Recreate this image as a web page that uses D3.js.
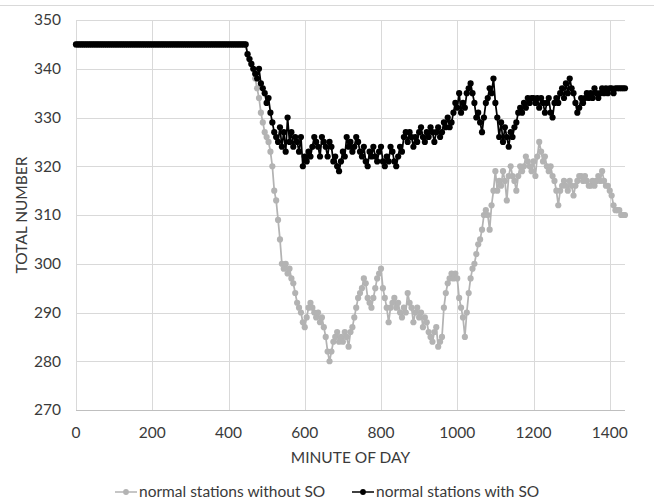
<!DOCTYPE html>
<html lang="en">
<head>
<meta charset="UTF-8">
<title>Total number of normal stations by minute of day</title>
<script src="https://d3js.org/d3.v7.min.js"></script>
<style>
  body { margin: 0; background: #fff; }
  text { font-family: Lato, "Open Sans", sans-serif; fill: #3a3a3a; font-size: 15.5px; }
</style>
</head>
<body>
<svg id="chart"></svg>
<script>
// sampled every 5 minutes, 0..1440
const minutes = d3.range(0, 1441, 5);

const withoutSO = [
  345,345,345,345,345,345,345,345,345,345,345,345,345,345,345,345,345,345,345,345,
  345,345,345,345,345,345,345,345,345,345,345,345,345,345,345,345,345,345,345,345,
  345,345,345,345,345,345,345,345,345,345,345,345,345,345,345,345,345,345,345,345,
  345,345,345,345,345,345,345,345,345,345,345,345,345,345,345,345,345,345,345,345,
  345,345,345,345,345,345,345,345,345,345,
  343,342,341,340,338,336,334,331,329,327,326,325,323,320,315,313,309,305,300,299,
  300,298,299,297,296,294,292,291,290,288,287,289,291,292,291,290,289,290,288,289,
  287,285,282,280,282,284,285,286,284,285,284,286,285,283,286,287,289,291,293,294,
  295,297,296,293,292,291,293,295,297,298,299,295,293,291,288,291,292,293,291,292,
  290,289,291,290,294,292,291,288,290,291,289,290,287,289,288,286,285,284,286,287,
  283,284,285,291,294,296,297,298,297,298,297,293,291,289,285,290,294,297,299,300,
  302,304,305,307,310,311,310,307,312,315,319,315,317,316,319,317,313,318,320,318,
  317,315,318,320,319,320,322,321,320,319,321,318,322,325,323,321,322,320,319,320,
  318,317,315,312,315,316,317,316,315,317,316,314,316,317,318,318,317,318,317,316,
  316,317,316,317,318,317,319,317,316,316,315,314,312,311,311,311,310,310,310
];

const withSO = [
  345,345,345,345,345,345,345,345,345,345,345,345,345,345,345,345,345,345,345,345,
  345,345,345,345,345,345,345,345,345,345,345,345,345,345,345,345,345,345,345,345,
  345,345,345,345,345,345,345,345,345,345,345,345,345,345,345,345,345,345,345,345,
  345,345,345,345,345,345,345,345,345,345,345,345,345,345,345,345,345,345,345,345,
  345,345,345,345,345,345,345,345,345,345,
  343,342,341,340,339,338,340,337,336,335,333,334,331,329,327,326,325,328,324,327,
  323,330,325,327,324,326,325,323,326,320,322,321,323,322,324,326,325,324,322,326,
  325,324,322,325,324,321,322,320,319,321,323,322,326,324,325,323,324,326,325,323,
  322,324,321,320,323,322,324,322,321,323,324,321,320,322,321,324,323,321,320,322,
  324,323,326,327,325,327,326,324,326,325,327,328,326,325,327,326,328,327,325,327,
  328,326,327,329,328,330,328,329,331,333,332,335,331,333,332,335,336,337,335,333,
  330,331,329,327,330,333,334,336,335,338,333,330,326,329,325,328,326,324,327,326,
  328,329,331,332,331,333,332,334,333,334,334,333,334,332,334,333,331,333,334,331,
  330,333,334,333,335,336,334,337,335,338,336,335,333,331,332,334,333,334,335,334,
  335,334,336,335,334,335,336,335,336,335,336,336,335,336,336,336,336,336,336
];

const xTicks = [0, 200, 400, 600, 800, 1000, 1200, 1400];
const yTicks = [270, 280, 290, 300, 310, 320, 330, 340, 350];

const series = [
  { name: "normal stations without SO", values: withoutSO, color: "#b3b3b3" },
  { name: "normal stations with SO", values: withSO, color: "#000000" }
];

const width = 654, height = 502;
const plotLeft = 76, plotRight = 625, plotTop = 20, plotBottom = 410;

const svg = d3.select("#chart")
  .attr("width", width)
  .attr("height", height);

const x = d3.scaleLinear().domain([0, 1440]).range([plotLeft, plotRight]);
const y = d3.scaleLinear().domain([270, 350]).range([plotBottom, plotTop]);

// thin frame line across the top
svg.append("line")
  .attr("x1", 0).attr("x2", width)
  .attr("y1", 5.5).attr("y2", 5.5)
  .attr("stroke", "#d9d9d9");

// gridlines
svg.append("g")
  .selectAll("line")
  .data(yTicks.slice(1))
  .join("line")
  .attr("x1", plotLeft).attr("x2", plotRight)
  .attr("y1", d => Math.round(y(d)) + 0.5)
  .attr("y2", d => Math.round(y(d)) + 0.5)
  .attr("stroke", "#d9d9d9");

svg.append("g")
  .selectAll("line")
  .data(xTicks)
  .join("line")
  .attr("x1", d => Math.round(x(d)) + 0.5)
  .attr("x2", d => Math.round(x(d)) + 0.5)
  .attr("y1", plotTop).attr("y2", plotBottom)
  .attr("stroke", "#d9d9d9");

// x axis line
svg.append("line")
  .attr("x1", plotLeft).attr("x2", plotRight)
  .attr("y1", plotBottom + 0.5).attr("y2", plotBottom + 0.5)
  .attr("stroke", "#bfbfbf");

// tick labels
svg.append("g")
  .selectAll("text")
  .data(yTicks)
  .join("text")
  .attr("x", 61)
  .attr("y", d => y(d))
  .attr("dy", "0.35em")
  .attr("text-anchor", "end")
  .text(d => d);

svg.append("g")
  .selectAll("text")
  .data(xTicks)
  .join("text")
  .attr("x", d => x(d))
  .attr("y", 433)
  .attr("dy", "0.35em")
  .attr("text-anchor", "middle")
  .text(d => d);

// axis titles
svg.append("text")
  .attr("x", (plotLeft + plotRight) / 2)
  .attr("y", 458)
  .attr("dy", "0.35em")
  .attr("text-anchor", "middle")
  .text("MINUTE OF DAY");

svg.append("text")
  .attr("transform", `translate(22, ${(plotTop + plotBottom) / 2}) rotate(-90)`)
  .attr("dy", "0.35em")
  .attr("text-anchor", "middle")
  .text("TOTAL NUMBER");

// series
const line = d3.line()
  .x((d, i) => x(minutes[i]))
  .y(d => y(d));

series.forEach(s => {
  const g = svg.append("g");
  g.append("path")
    .datum(s.values)
    .attr("d", line)
    .attr("fill", "none")
    .attr("stroke", s.color)
    .attr("stroke-width", 1.75);
  g.selectAll("circle")
    .data(s.values)
    .join("circle")
    .attr("cx", (d, i) => x(minutes[i]))
    .attr("cy", d => y(d))
    .attr("r", 3.1)
    .attr("fill", s.color);
});

// legend
const legendX = [115, 352];
const legend = svg.append("g")
  .selectAll("g")
  .data(series)
  .join("g")
  .attr("transform", (d, i) => `translate(${legendX[i]}, 492)`);

legend.append("line")
  .attr("x1", 0).attr("x2", 22)
  .attr("stroke", d => d.color)
  .attr("stroke-width", 1.5);

legend.append("circle")
  .attr("cx", 11)
  .attr("r", 2.9)
  .attr("fill", d => d.color);

legend.append("text")
  .attr("x", 24)
  .attr("dy", "0.35em")
  .text(d => d.name);
</script>
</body>
</html>
